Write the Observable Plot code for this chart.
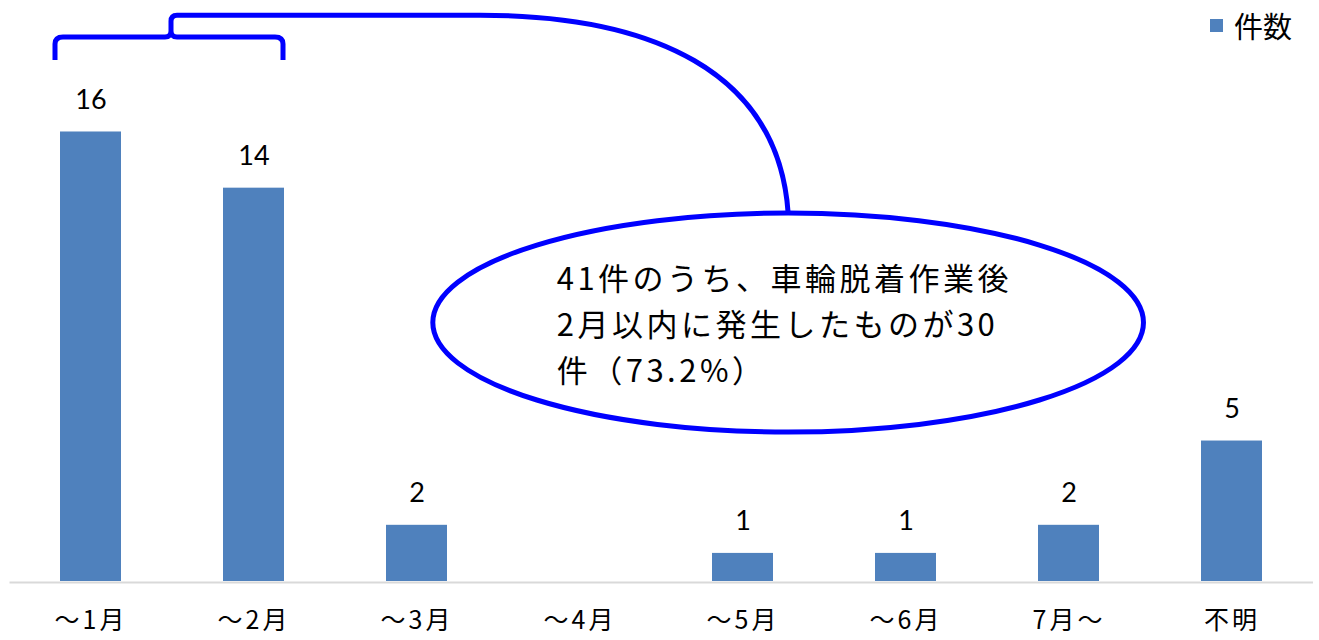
<!DOCTYPE html>
<html>
<head>
<meta charset="utf-8">
<script src="https://cdn.jsdelivr.net/npm/d3@7"></script>
<script src="https://cdn.jsdelivr.net/npm/@observablehq/plot@0.6"></script>
<style>
  html, body { margin: 0; padding: 0; background: #fff; }
  #wrap { position: relative; width: 1319px; height: 640px; }
  #legend { position: absolute; top: 4px; left: 1210px; display: flex; align-items: center;
            font-family: "Noto Sans CJK JP", sans-serif; font-size: 29px; color: #000; }
  #legend .sw { width: 13px; height: 13px; background: #4f81bd; margin-right: 11px; }
</style>
</head>
<body>
<div id="wrap"><div id="legend"><div class="sw"></div><span>件数</span></div></div>
<script>
// Data
const categories = ["～1月", "～2月", "～3月", "～4月", "～5月", "～6月", "7月～", "不明"];
const counts = [16, 14, 2, 0, 1, 1, 2, 5];
const seriesName = "件数";
const calloutLines = ["41件のうち、車輪脱着作業後", "2月以内に発生したものが30", "件（73.2%）"];

const data = categories.map((c, i) => ({ category: c, count: counts[i] }));
const labelData = data.filter(d => d.count > 0);

const blue = "#4f81bd";
const calloutBlue = "#0000ff";
const cjk = "'Noto Sans CJK JP', sans-serif";

const marks = [
  Plot.ruleY([0], { stroke: "#d9d9d9", strokeWidth: 2, dy: 1 }),
  Plot.barY(data, { x: "category", y: "count", fill: blue }),
  Plot.text(labelData, { x: "category", y: "count", text: d => String(d.count), dy: -32,
    fontSize: 27, fontFamily: "Lato, 'Open Sans', sans-serif", fill: "#000" })
];
const hasAxisMark = typeof Plot.axisX === "function";
if (hasAxisMark) {
  marks.push(Plot.axisX({ tickSize: 0, tickPadding: 30, fontSize: 25, fontFamily: cjk, fill: "#000", label: null }));
}

const plot = Plot.plot({
  width: 1319,
  height: 640,
  marginTop: 0,
  marginBottom: 59,
  marginLeft: 9.5,
  marginRight: 6,
  style: { fontFamily: cjk, fontSize: "25px", color: "#000", background: "#fff" },
  x: { domain: categories, paddingInner: 0.626, paddingOuter: 0.31, tickSize: 0, tickPadding: 30, label: null },
  y: { domain: [0, 20.68], axis: null },
  marks
});
document.getElementById("wrap").prepend(plot);

// x tick labels: letter spacing like the reference
d3.select(plot).selectAll("g[aria-label^='x-axis'] text")
  .attr("font-size", 25).attr("letter-spacing", 3).attr("font-family", cjk);

// Callout annotation, positioned through the chart's scales
const xs = plot.scale("x");
const ys = plot.scale("y");
const step = xs.step !== undefined ? xs.step : (xs.apply(categories[1]) - xs.apply(categories[0]));
const bw = xs.bandwidth;
const c0 = xs.apply(categories[0]) + bw / 2;
const px = i => c0 + i * step;          // fractional category index -> pixel
const py = v => ys.apply(v);            // value -> pixel

const svg = d3.select(plot);
const g = svg.append("g").attr("fill", "none").attr("stroke", calloutBlue).attr("stroke-width", 5);

// Ellipse
const ex = px(4.28), ey = py(9.2), erx = 2.18 * step, ery = py(9.2) - py(13.1);
g.append("ellipse").attr("cx", ex).attr("cy", ey).attr("rx", erx).attr("ry", ery).attr("fill", "#fff");

// Brace over the first two bars
const bl = xs.apply(categories[0]) - 5;
const br = xs.apply(categories[1]) + bw - 1;
const bm = px(0.5) - 1;
const yEnd = py(18.54), yMid = py(19.36), yTop = py(20.14);
g.append("path").attr("stroke-linejoin", "round").attr("d",
  `M${bl},${yEnd} L${bl},${yMid + 7} Q${bl},${yMid} ${bl + 8},${yMid} L${bm - 6},${yMid} Q${bm},${yMid} ${bm},${yMid - 6} ` +
  `L${bm},${yTop + 6} Q${bm},${yTop} ${bm + 6},${yTop} ` +
  `M${br},${yEnd} L${br},${yMid + 7} Q${br},${yMid} ${br - 8},${yMid} L${bm + 6},${yMid} Q${bm},${yMid} ${bm},${yMid - 6}`);

// Connector from brace to the ellipse
const lx = px(2.39);
const etop = ey - ery;
g.append("path").attr("d",
  `M${bm + 6},${yTop} L${lx},${yTop} C${lx + 170},${yTop} ${ex - 10},${yTop + 55} ${ex},${etop}`);

// Callout text
const t = svg.append("text")
  .attr("font-family", cjk)
  .attr("font-size", 31)
  .attr("letter-spacing", 3.5)
  .attr("text-anchor", "start")
  .attr("fill", "#000");
const lineVals = [10.75, 9.11, 7.47];
calloutLines.forEach((s, i) => {
  t.append("tspan").attr("x", px(2.86)).attr("y", py(lineVals[i])).attr("dy", "0.35em").text(s);
});
</script>
</body>
</html>
